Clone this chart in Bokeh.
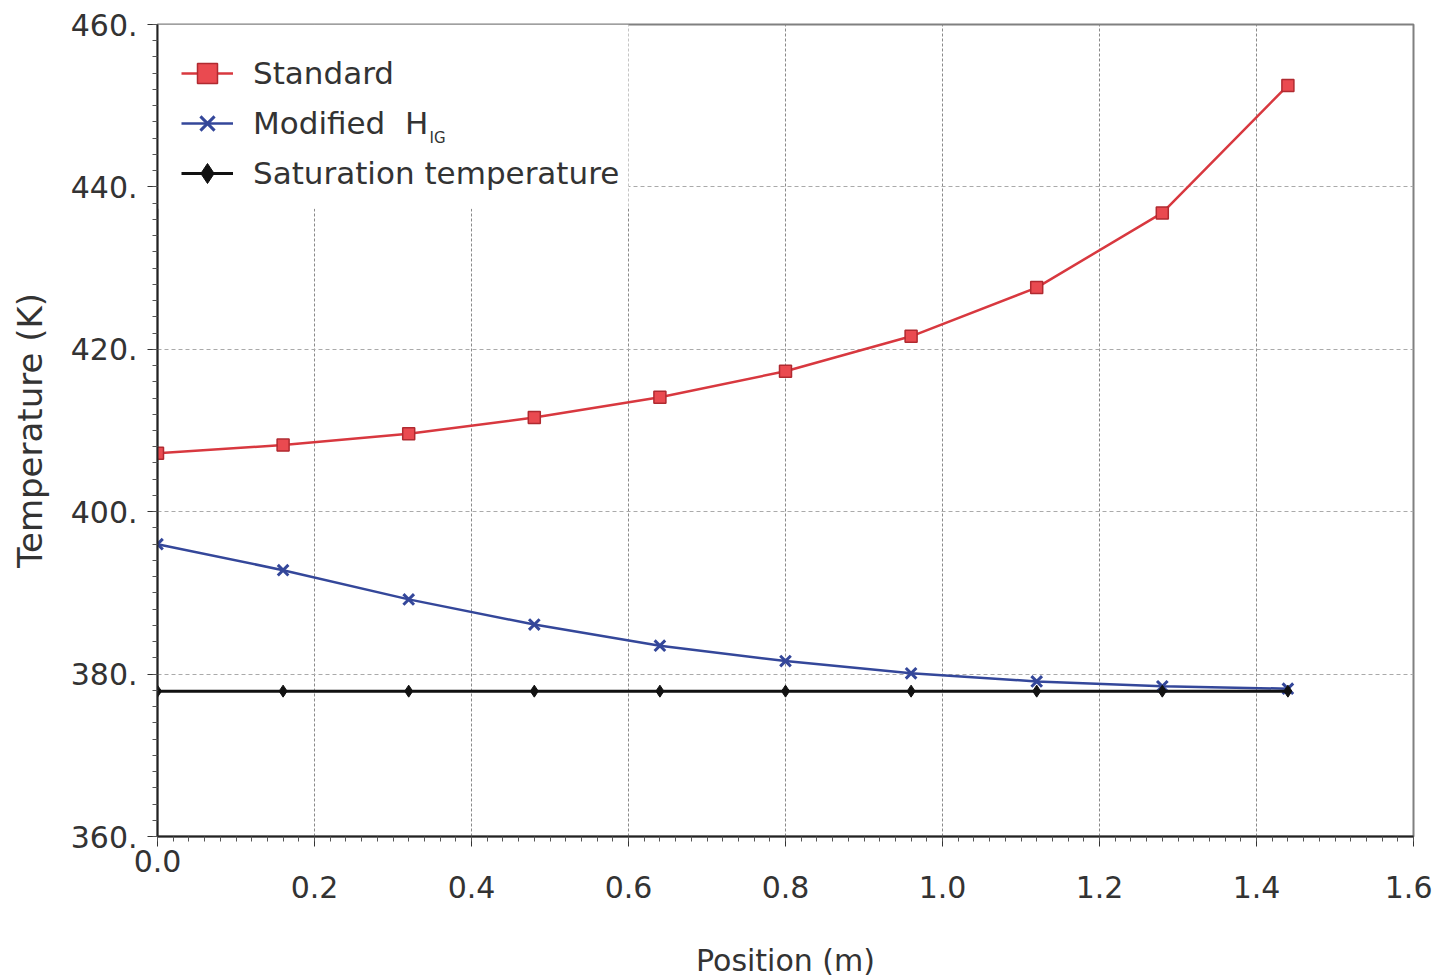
from bokeh.plotting import figure
from bokeh.models import (Range1d, SingleIntervalTicker, PrintfTickFormatter, Legend,
                          LegendItem, Label, BoxAnnotation, CustomJSTickFormatter)
from bokeh.embed import file_html
from bokeh.resources import INLINE

# ---- data ----
position = [0.0, 0.16, 0.32, 0.48, 0.64, 0.80, 0.96, 1.12, 1.28, 1.44]
standard = [407.2, 408.2, 409.6, 411.6, 414.1, 417.3, 421.6, 427.6, 436.8, 452.5]
modified = [396.0, 392.8, 389.2, 386.1, 383.5, 381.6, 380.1, 379.1, 378.5, 378.2]
saturation = [377.9, 377.9, 377.9, 377.9, 377.9, 377.9, 377.9, 377.9, 377.9, 377.9]

FONT = "DejaVu Sans"
TXT = "#333333"

p = figure(width=1432, height=980, x_range=Range1d(0, 1.6), y_range=Range1d(360, 460),
           output_backend="svg", toolbar_location=None,
           min_border_left=157, min_border_right=19, min_border_top=24, min_border_bottom=144)
p.background_fill_color = "white"
p.outline_line_color = "#808080"
p.outline_line_width = 2

# axes
p.xaxis.ticker = SingleIntervalTicker(interval=0.2, num_minor_ticks=10)
p.yaxis.ticker = SingleIntervalTicker(interval=20, num_minor_ticks=10)
# "0.0" sits one row higher than the other x tick labels in the reference
p.xaxis.formatter = CustomJSTickFormatter(
    code="return Math.abs(tick) < 1e-9 ? '0.0' : '\\n' + tick.toFixed(1);")
p.yaxis.formatter = PrintfTickFormatter(format="%d.")
for ax in (p.xaxis[0], p.yaxis[0]):
    ax.axis_line_color = "#222222"
    ax.axis_line_width = 2
    ax.major_tick_in = 0
    ax.major_tick_out = 10
    ax.minor_tick_in = 0
    ax.minor_tick_out = 5
    ax.major_tick_line_color = "#333333"
    ax.minor_tick_line_color = "#555555"
    ax.major_label_text_font = FONT
    ax.major_label_text_font_size = "30px"
    ax.major_label_text_color = TXT
    ax.axis_label_text_font = FONT
    ax.axis_label_text_font_style = "normal"
    ax.axis_label_text_color = TXT
p.xaxis.major_label_text_line_height = 0.75
p.xaxis.axis_label_text_font_size = "30px"
p.yaxis.axis_label_text_font_size = "34px"
p.xaxis.major_label_standoff = -3
p.yaxis.major_label_standoff = 10
p.xaxis.axis_label = "Position (m)"
p.yaxis.axis_label = "Temperature (K)"
p.xaxis.axis_label_standoff = 35
p.yaxis.axis_label_standoff = 18

# grids
p.xgrid.grid_line_color = "#8a8a8a"
p.xgrid.grid_line_dash = "3 2"
p.ygrid.grid_line_color = "#aaaaaa"
p.ygrid.grid_line_dash = "4 3"

# white panel behind the legend (hides the grid there, like the reference)
p.add_layout(BoxAnnotation(left=0.0, right=0.6, top=460, bottom=437.3,
                           fill_color="white", fill_alpha=1.0, line_color=None,
                           level="underlay"))

# series
r_std_l = p.line(position, standard, line_color="#d8383f", line_width=2.5)
r_std_m = p.scatter(position, standard, marker="square", size=12, fill_color="#ea4a50",
                    line_color="#b02a30", line_width=1.5)
r_mod_l = p.line(position, modified, line_color="#34479a", line_width=2.5)
r_mod_m = p.scatter(position, modified, marker="x", size=15, line_color="#34479a",
                    line_width=3)
r_sat_l = p.line(position, saturation, line_color="#111111", line_width=3)
r_sat_m = p.scatter(position, saturation, marker="diamond", size=12, fill_color="#111111",
                    line_color="#111111")

legend = Legend(items=[
    LegendItem(label="Standard", renderers=[r_std_l, r_std_m]),
    LegendItem(label="Modified  H", renderers=[r_mod_l, r_mod_m]),
    LegendItem(label="Saturation temperature", renderers=[r_sat_l, r_sat_m]),
], location="top_left")
legend.margin = 24
legend.padding = 0
legend.spacing = 0
legend.glyph_width = 52
legend.glyph_height = 50
legend.label_height = 50
legend.label_standoff = 20
legend.label_text_font = FONT
legend.label_text_font_size = "31px"
legend.label_text_color = TXT
legend.border_line_color = None
legend.background_fill_alpha = 0.0
p.add_layout(legend)

# subscript "IG" of H in the legend
p.add_layout(Label(x=0.3465, y=446.0, text="IG", text_font=FONT, text_font_size="15px",
                   text_color=TXT, text_baseline="middle", level="overlay"))

open("out.html", "w").write(file_html(p, INLINE))
